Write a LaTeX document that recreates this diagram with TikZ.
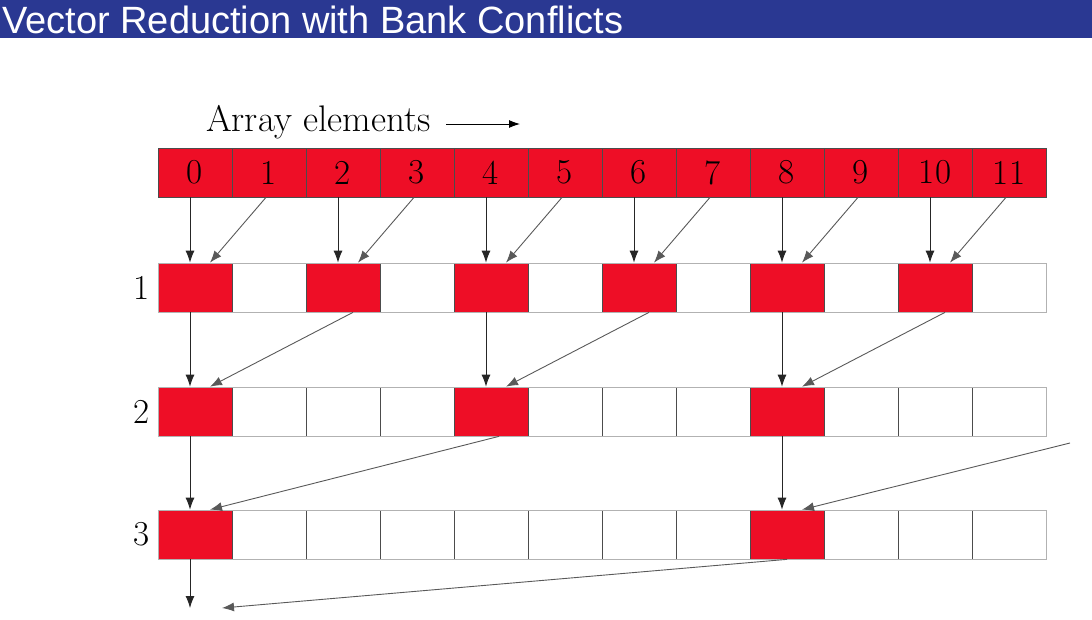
\documentclass[tikz,border=0pt]{standalone}
\usepackage{fontspec}
\newfontfamily\titlefont{Liberation Sans}
\usetikzlibrary{arrows.meta}
\definecolor{slideblue}{RGB}{42,56,146}
\definecolor{cellred}{RGB}{238,14,38}
\begin{document}
\begin{tikzpicture}[x=1pt,y=-1pt,
  cell/.style={draw=black!70,line width=0.7pt,minimum width=74pt,minimum height=49pt,inner sep=0pt,fill=white},
  hot/.style={cell,fill=cellred},
  digit/.style={font=\fontsize{35}{35}\selectfont},
  flow/.style={line width=0.9pt,draw=black!85,-{Latex[length=12pt,width=9pt]}},
  skew/.style={flow,draw=black!65}]
\useasboundingbox (0,0) rectangle (1092,619);
% title bar
\fill[slideblue] (0,0) rectangle (1092,38);
\node[anchor=west,text=white,inner sep=0pt,font=\titlefont\fontsize{38}{38}\selectfont] (title) at (2,20) {Vector Reduction with Bank Conflicts};
% heading with direction arrow
\node[anchor=base west,inner sep=0pt,font=\fontsize{37}{37}\selectfont] (heading) at (206,131) {Array elements};
\coordinate (dirA) at (446,124);
\coordinate (dirB) at (520,124);
\draw[line width=0.9pt,-{Latex[length=11pt,width=8pt]}] (dirA) -- (dirB);
% top row: the array
\foreach \i in {0,...,11} {
  \node[hot,digit] (r0c\i) at (195+74*\i,172.5) {\i};
}
% reduction rows
\foreach \r/\y/\step in {1/287.5/2,2/411.5/4,3/534.5/8} {
  \node[digit,anchor=east,inner sep=0pt] (lab\r) at (150,\y) {\r};
  \foreach \i in {0,...,11} {
    \pgfmathtruncatemacro\m{mod(\i,\step)}
    \ifnum\m=0
      \node[hot] (r\r c\i) at (195+74*\i,\y) {};
    \else
      \node[cell] (r\r c\i) at (195+74*\i,\y) {};
    \fi
  }
  \draw[gray!60,line width=1pt] (158,\y-24.5) rectangle (1046,\y+24.5);
}
% step 1: pairs of neighbours
\foreach \a/\b in {0/1,2/3,4/5,6/7,8/9,10/11} {
  \draw[flow] ([xshift=-5pt]r0c\a.south) -- ([xshift=-5pt]r1c\a.north);
  \draw[skew] ([xshift=-3pt]r0c\b.south) -- ([xshift=15pt]r1c\a.north);
}
% step 2: stride two
\foreach \a/\b in {0/2,4/6,8/10} {
  \draw[flow] ([xshift=-5pt]r1c\a.south) -- ([xshift=-5pt]r2c\a.north);
  \draw[skew] ([xshift=10pt]r1c\b.south) -- ([xshift=15pt]r2c\a.north);
}
% step 3: stride four
\draw[flow] ([xshift=-5pt]r2c0.south) -- ([xshift=-5pt]r3c0.north);
\draw[skew] ([xshift=8pt]r2c4.south) -- ([xshift=15pt]r3c0.north);
\draw[flow] ([xshift=-5pt]r2c8.south) -- ([xshift=-5pt]r3c8.north);
\coordinate (farright) at (1070,443);
\draw[skew] (farright) -- ([xshift=15pt]r3c8.north);
% final step
\coordinate (outA) at (190,608);
\coordinate (outB) at (222,608);
\draw[flow] ([xshift=-5pt]r3c0.south) -- (outA);
\draw[skew] ([xshift=0pt]r3c8.south) -- (outB);
\end{tikzpicture}
\end{document}
